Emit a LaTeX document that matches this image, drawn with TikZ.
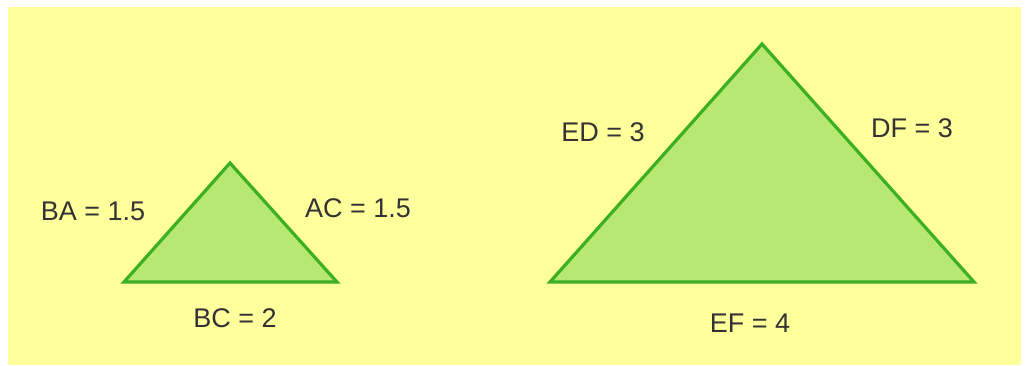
\documentclass[tikz,border=0pt]{standalone}
\usepackage{fontspec}
\setmainfont{Liberation Sans}
\usepackage{tikz}
\usetikzlibrary{calc, positioning}
\usepackage{xcolor}
\definecolor{bgPaper}{HTML}{FFFF9C}
\definecolor{triFill}{HTML}{B6E872}
\definecolor{triEdge}{HTML}{3DB021}
\definecolor{textDark}{HTML}{333333}
\tikzset{
  triShape/.style={fill=triFill, draw=triEdge, line width=3.2pt, line join=miter},
  sideLabel/.style={text=textDark, font=\fontsize{27}{32}\selectfont, inner sep=0pt}
}

\begin{document}
\begin{tikzpicture}[x=1pt, y=1pt]
        \useasboundingbox (0,0) rectangle (1027,365);
        \fill[white] (0,0) rectangle (1027,365);
        \fill[bgPaper] (8,0) rectangle (1021,358);
        % small triangle
        \coordinate (A) at (230,202);
        \coordinate (B) at (124,83);
        \coordinate (C) at (337,83);
        \draw[triShape] (A) -- (B) -- (C) -- cycle;
        \node[sideLabel] (labBA) at (93,154) {BA = 1.5};
        \node[sideLabel] (labAC) at (358,157) {AC = 1.5};
        \node[sideLabel] (labBC) at (235,47) {BC = 2};
        % large triangle
        \coordinate (D) at (762,321);
        \coordinate (E) at (550,83);
        \coordinate (F) at (974,83);
        \draw[triShape] (D) -- (E) -- (F) -- cycle;
        \node[sideLabel] (labED) at (603,233) {ED = 3};
        \node[sideLabel] (labDF) at (912,237) {DF = 3};
        \node[sideLabel] (labEF) at (750,42) {EF = 4};
      \end{tikzpicture}
\end{document}
